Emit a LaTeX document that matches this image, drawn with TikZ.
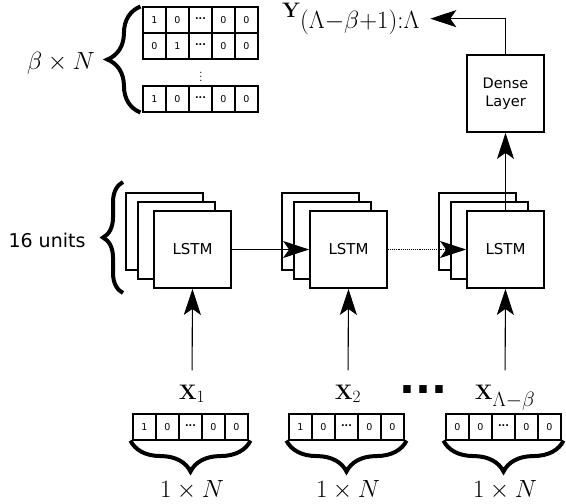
\documentclass[tikz,border=0pt]{standalone}
\usepackage{fontspec}
\setsansfont{DejaVu Sans}
\usetikzlibrary{arrows.meta,decorations.pathreplacing}
\newcommand{\celldots}{\textbf{\raisebox{2.5pt}{...}}}
\newcommand{\bigsub}[2]{\mbox{\fontsize{#1}{#1}\selectfont$#2$}}
\newcommand{\bvec}[1]{\mbox{\fontsize{21}{21}\selectfont\bfseries #1}}
\tikzset{
	lstmbox/.style={draw,line width=1.8pt,fill=white,minimum size=77pt,inner sep=0pt,font=\sffamily\fontsize{15}{18}\selectfont},
	cellbox/.style={draw,line width=1.1pt,minimum width=23pt,minimum height=26pt,inner sep=0pt,font=\sffamily\fontsize{9.5}{10}\selectfont},
	link/.style={line width=1.1pt,-{Stealth[length=26pt,width=17pt,inset=6pt]}},
	curly/.style={decorate,decoration={brace,amplitude=#1},line width=4pt},
	veclabel/.style={font=\fontsize{20}{24}\selectfont,inner sep=0pt,anchor=base}
}

\begin{document}
\begin{tikzpicture}[line cap=butt,line join=miter,x=1pt,y=-1pt]
	\useasboundingbox (0,0) rectangle (566,504);
	% lstm stacks
	\foreach \x/\n in {192.5/a,348.5/b,505.5/c}{
		\node[lstmbox] at (\x-28,231.5) {};
		\node[lstmbox] at (\x-16,240.5) {};
		\node[lstmbox] (lstm\n) at (\x,249.5) {LSTM};
	}
	\node[lstmbox,align=center,font=\sffamily\fontsize{14.5}{18}\selectfont] (dense) at (505.5,93.5) {Dense\\Layer};
	% one-hot inputs
	\foreach \v [count=\i] in {1,0,\celldots,0,0}
		\node[cellbox] (xa-\i) at (121.5+23*\i,427) {\v};
	\foreach \v [count=\i] in {1,0,\celldots,0,0}
		\node[cellbox] (xb-\i) at (277.5+23*\i,427) {\v};
	\foreach \v [count=\i] in {0,0,\celldots,0,0}
		\node[cellbox] (xc-\i) at (434.5+23*\i,427) {\v};
	% one-hot outputs
	\foreach \v [count=\i] in {1,0,\celldots,0,0}
		\node[cellbox] (rowa-\i) at (131.5+23*\i,20) {\v};
	\foreach \v [count=\i] in {0,1,\celldots,0,0}
		\node[cellbox] (rowb-\i) at (131.5+23*\i,46) {\v};
	\foreach \v [count=\i] in {1,0,\celldots,0,0}
		\node[cellbox] (rowc-\i) at (131.5+23*\i,99) {\v};
	\node[font=\fontsize{13}{13}\selectfont,inner sep=0pt] (vdots) at (201,74) {$\vdots$};
	% labels
	\node[veclabel] (xla) at (192,399) {$\bvec{X}_{\bigsub{17}{1}}$};
	\node[veclabel] (xlb) at (348,399) {$\bvec{X}_{\bigsub{17}{2}}$};
	\node[veclabel] (xlc) at (505,399) {$\bvec{X}_{\bigsub{22}{\Lambda{-}\beta}}$};
	\node[veclabel,anchor=base west] (ylab) at (282,17) {$\bvec{Y}_{\bigsub{23}{(\Lambda{-}\beta{+}1){:}\Lambda}}$};
	\node[font=\sffamily\bfseries\fontsize{42}{42}\selectfont,anchor=base] (gap) at (423.5,393) {...};
	\node[font=\fontsize{24}{24}\selectfont] (na) at (192,490) {$1\times N$};
	\node[font=\fontsize{24}{24}\selectfont] (nb) at (348,490) {$1\times N$};
	\node[font=\fontsize{24}{24}\selectfont] (nc) at (505,490) {$1\times N$};
	\node[font=\fontsize{27}{27}\selectfont] (bn) at (61,63) {$\beta\times N$};
	\node[font=\sffamily\fontsize{19}{19}\selectfont,anchor=east] (units) at (89,240) {16 units};
	% braces
	\draw[curly=31pt] ([xshift=2pt]xa-5.south east) -- ([xshift=-2pt]xa-1.south west);
	\draw[curly=31pt] ([xshift=2pt]xb-5.south east) -- ([xshift=-2pt]xb-1.south west);
	\draw[curly=31pt] ([xshift=2pt]xc-5.south east) -- ([xshift=-2pt]xc-1.south west);
	\draw[curly=33pt] ([xshift=-2pt]rowc-1.south west) -- ([xshift=-2pt]rowa-1.north west);
	\draw[curly=20pt] (123,293) -- (123,182);
	% connections
	\draw[link,shorten <=14pt] (xla.north) -- (lstma.south);
	\draw[link,shorten <=14pt] (xlb.north) -- (lstmb.south);
	\draw[link,shorten <=14pt] (xlc.north) -- (lstmc.south);
	\draw[link] (lstma.east) -- (lstmb.west);
	\draw[link,densely dotted] (lstmb.east) -- (lstmc.west);
	\draw[link] (lstmc.north) -- (dense.south);
	\draw[link,shorten >=10pt] (dense.north) |- (ylab.east);
\end{tikzpicture}
\end{document}
